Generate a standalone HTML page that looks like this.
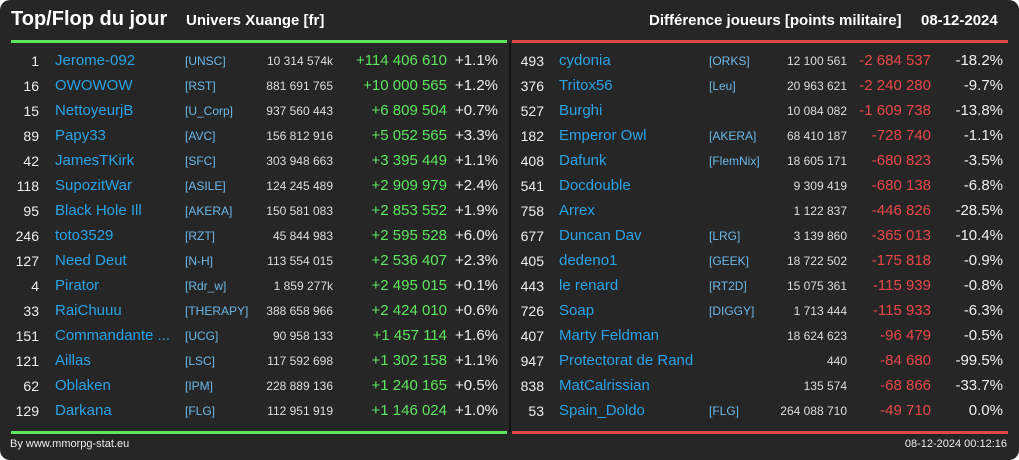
<!DOCTYPE html>
<html><head><meta charset="utf-8"><style>
body{margin:0;width:1019px;height:460px;background:#fff;font-family:"Liberation Sans",sans-serif;overflow:hidden}
#card{position:absolute;left:0;top:0;width:1019px;height:460px;background:#262626;border-radius:10px;overflow:hidden}
.t{position:absolute;white-space:nowrap;line-height:1}
.r{text-align:right}
</style></head><body>
<div id="card">
<div class="t" style="left:11px;top:9px;font-size:20px;font-weight:bold;color:#fff">Top/Flop du jour</div>
<div class="t" style="left:186px;top:13px;font-size:15px;font-weight:bold;color:#fff">Univers Xuange [fr]</div>
<div class="t" style="left:649px;top:13px;font-size:15px;font-weight:bold;color:#fff">Différence joueurs [points militaire]</div>
<div class="t" style="left:921px;top:13px;font-size:15px;font-weight:bold;color:#fff">08-12-2024</div>
<div style="position:absolute;left:11px;top:40px;width:496px;height:3px;background:#5de65d"></div>
<div style="position:absolute;left:512px;top:40px;width:496px;height:3px;background:#e04848"></div>
<div style="position:absolute;left:509px;top:43px;width:2px;height:389px;background:#111"></div>
<div style="position:absolute;left:11px;top:431px;width:496px;height:3px;background:#5de65d"></div>
<div style="position:absolute;left:512px;top:431px;width:496px;height:3px;background:#e04848"></div>
<div class="t" style="left:10px;top:439px;font-size:11px;color:#eee">By www.mmorpg-stat.eu</div>
<div class="t r" style="right:12px;top:439px;font-size:11px;color:#eee">08-12-2024 00:12:16</div>
<div id="rows"></div>
</div>
<script>
const topRank=[1,16,15,89,42,118,95,246,127,4,33,151,121,62,129];
const topName=["Jerome-092","OWOWOW","NettoyeurjB","Papy33","JamesTKirk","SupozitWar","Black Hole Ill","toto3529","Need Deut","Pirator","RaiChuuu","Commandante ...","Aillas","Oblaken","Darkana"];
const topAlly=["[UNSC]","[RST]","[U_Corp]","[AVC]","[SFC]","[ASILE]","[AKERA]","[RZT]","[N-H]","[Rdr_w]","[THERAPY]","[UCG]","[LSC]","[IPM]","[FLG]"];
const topPts=["10 314 574k","881 691 765","937 560 443","156 812 916","303 948 663","124 245 489","150 581 083","45 844 983","113 554 015","1 859 277k","388 658 966","90 958 133","117 592 698","228 889 136","112 951 919"];
const topDiff=["+114 406 610","+10 000 565","+6 809 504","+5 052 565","+3 395 449","+2 909 979","+2 853 552","+2 595 528","+2 536 407","+2 495 015","+2 424 010","+1 457 114","+1 302 158","+1 240 165","+1 146 024"];
const topPct=["+1.1%","+1.2%","+0.7%","+3.3%","+1.1%","+2.4%","+1.9%","+6.0%","+2.3%","+0.1%","+0.6%","+1.6%","+1.1%","+0.5%","+1.0%"];
const flopRank=[493,376,527,182,408,541,758,677,405,443,726,407,947,838,53];
const flopName=["cydonia","Tritox56","Burghi","Emperor Owl","Dafunk","Docdouble","Arrex","Duncan Dav","dedeno1","le renard","Soap","Marty Feldman","Protectorat de Rand","MatCalrissian","Spain_Doldo"];
const flopAlly=["[ORKS]","[Leu]","","[AKERA]","[FlemNix]","","","[LRG]","[GEEK]","[RT2D]","[DIGGY]","","","","[FLG]"];
const flopPts=["12 100 561","20 963 621","10 084 082","68 410 187","18 605 171","9 309 419","1 122 837","3 139 860","18 722 502","15 075 361","1 713 444","18 624 623","440","135 574","264 088 710"];
const flopDiff=["-2 684 537","-2 240 280","-1 609 738","-728 740","-680 823","-680 138","-446 826","-365 013","-175 818","-115 939","-115 933","-96 479","-84 680","-68 866","-49 710"];
const flopPct=["-18.2%","-9.7%","-13.8%","-1.1%","-3.5%","-6.8%","-28.5%","-10.4%","-0.9%","-0.8%","-6.3%","-0.5%","-99.5%","-33.7%","0.0%"];
const root=document.getElementById('rows');
function cell(txt,x,y,size,color,right,name,inter){
  const d=document.createElement('div');
  d.className='t'+(right?' r':'');
  d.style.top=(y-size*0.45)+'px';
  d.style.fontSize=size+'px';d.style.color=color;
  if(right){d.style.right=(1019-x)+'px';}else{d.style.left=x+'px';}
  d.textContent=txt;
  
  
  root.appendChild(d);
}
function rowY(i){return 60+i*25;}
topRank.forEach((v,i)=>{
  const y=rowY(i);
  cell(String(v),39,y,14,'#eee',true,'top-rank',false);
  cell(topName[i],55,y,15,'#2aa3e6',false,'top-player-name',true);
  cell(topAlly[i],185,y,12,'#6cb8ea',false,'top-alliance',true);
  cell(topPts[i],333,y,12,'#ddd',true,'top-points',false);
  cell(topDiff[i],447,y,15,'#5de65d',true,'top-diff',false);
  cell(topPct[i],498,y,15,'#eee',true,'top-pct',false);
});
flopRank.forEach((v,i)=>{
  const y=rowY(i);
  cell(String(v),544,y,14,'#eee',true,'flop-rank',false);
  cell(flopName[i],559,y,15,'#2aa3e6',false,'flop-player-name',true);
  if(flopAlly[i]) cell(flopAlly[i],709,y,12,'#6cb8ea',false,'flop-alliance',true);
  cell(flopPts[i],847,y,12,'#ddd',true,'flop-points',false);
  cell(flopDiff[i],931,y,15,'#e84848',true,'flop-diff',false);
  cell(flopPct[i],1003,y,15,'#eee',true,'flop-pct',false);
});
</script>
</body></html>
